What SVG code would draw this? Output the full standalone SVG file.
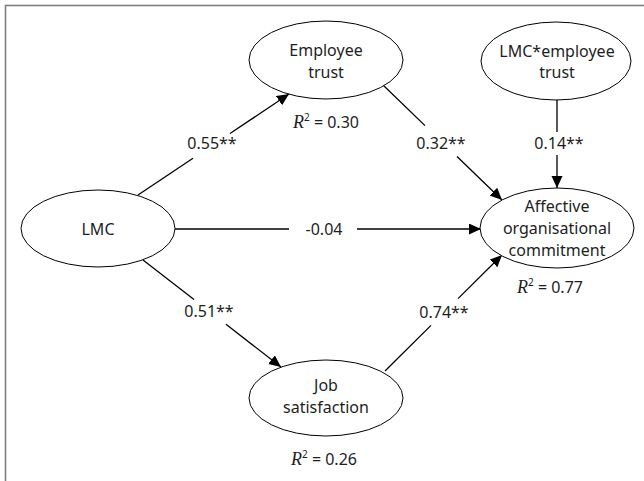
<svg xmlns="http://www.w3.org/2000/svg" width="644" height="481" viewBox="0 0 644 481">
<style>
text{font-family:"Noto Sans","Open Sans","Liberation Sans",sans-serif;font-size:16px;fill:#1e1e1e;text-anchor:middle}
.node ellipse{fill:#fff;stroke:#000;stroke-width:1}
.edge line{stroke:#000;stroke-width:1.3}
.r{font-family:"Liberation Serif","Times New Roman",serif;font-style:italic;font-size:18px}
.sup{font-size:10px}
</style>
<defs>
<marker id="ah" markerUnits="userSpaceOnUse" markerWidth="13" markerHeight="12" refX="12" refY="5.5" orient="auto">
<path d="M0,0 L12,5.5 L0,11 z" fill="#000"/>
</marker>
</defs>
<rect x="5.5" y="5.5" width="800" height="600" fill="none" stroke="#7f7f7f" stroke-width="1.6"/>

<g id="connectors" class="edge">
<line x1="138" y1="195" x2="193" y2="158.2"/>
<line x1="230" y1="133.5" x2="289" y2="94" marker-end="url(#ah)"/>
<line x1="383" y1="85" x2="425" y2="125.6"/>
<line x1="457" y1="156.5" x2="502" y2="200" marker-end="url(#ah)"/>
<line x1="557" y1="99" x2="557" y2="132"/>
<line x1="557" y1="155" x2="557" y2="188" marker-end="url(#ah)"/>
<line x1="175" y1="229" x2="289" y2="229"/>
<line x1="357" y1="229" x2="481" y2="229" marker-end="url(#ah)"/>
<line x1="143" y1="260" x2="194" y2="299.5"/>
<line x1="226" y1="324.3" x2="281" y2="367" marker-end="url(#ah)"/>
<line x1="385" y1="371" x2="431" y2="325.4"/>
<line x1="458" y1="298.6" x2="502" y2="255" marker-end="url(#ah)"/>
<text x="212" y="149">0.55**</text>
<text x="441" y="149">0.32**</text>
<text x="559" y="149">0.14**</text>
<text x="324" y="235">-0.04</text>
<text x="209" y="317">0.51**</text>
<text x="444" y="318">0.74**</text>
</g>

<g id="employee-trust" class="node">
<ellipse cx="326" cy="60" rx="77" ry="39"/>
<text x="326" y="56">Employee</text>
<text x="326" y="78">trust</text>
<text x="326" y="128"><tspan class="r">R</tspan><tspan class="sup" dy="-7">2</tspan><tspan dy="7"> = 0.30</tspan></text>
</g>

<g id="lmc-employee-trust" class="node">
<ellipse cx="556" cy="61" rx="75" ry="39"/>
<text x="557" y="57">LMC*employee</text>
<text x="557" y="78">trust</text>
</g>

<g id="lmc" class="node">
<ellipse cx="98" cy="228.5" rx="77" ry="38.5"/>
<text x="98" y="235">LMC</text>
</g>

<g id="affective-commitment" class="node">
<ellipse cx="557" cy="228" rx="77" ry="40"/>
<text x="557" y="212">Affective</text>
<text x="557" y="234">organisational</text>
<text x="557" y="256">commitment</text>
<text x="550" y="293"><tspan class="r">R</tspan><tspan class="sup" dy="-7">2</tspan><tspan dy="7"> = 0.77</tspan></text>
</g>

<g id="job-satisfaction" class="node">
<ellipse cx="326" cy="398" rx="77" ry="38"/>
<text x="326" y="391">Job</text>
<text x="326" y="413">satisfaction</text>
<text x="324" y="465"><tspan class="r">R</tspan><tspan class="sup" dy="-7">2</tspan><tspan dy="7"> = 0.26</tspan></text>
</g>
</svg>
